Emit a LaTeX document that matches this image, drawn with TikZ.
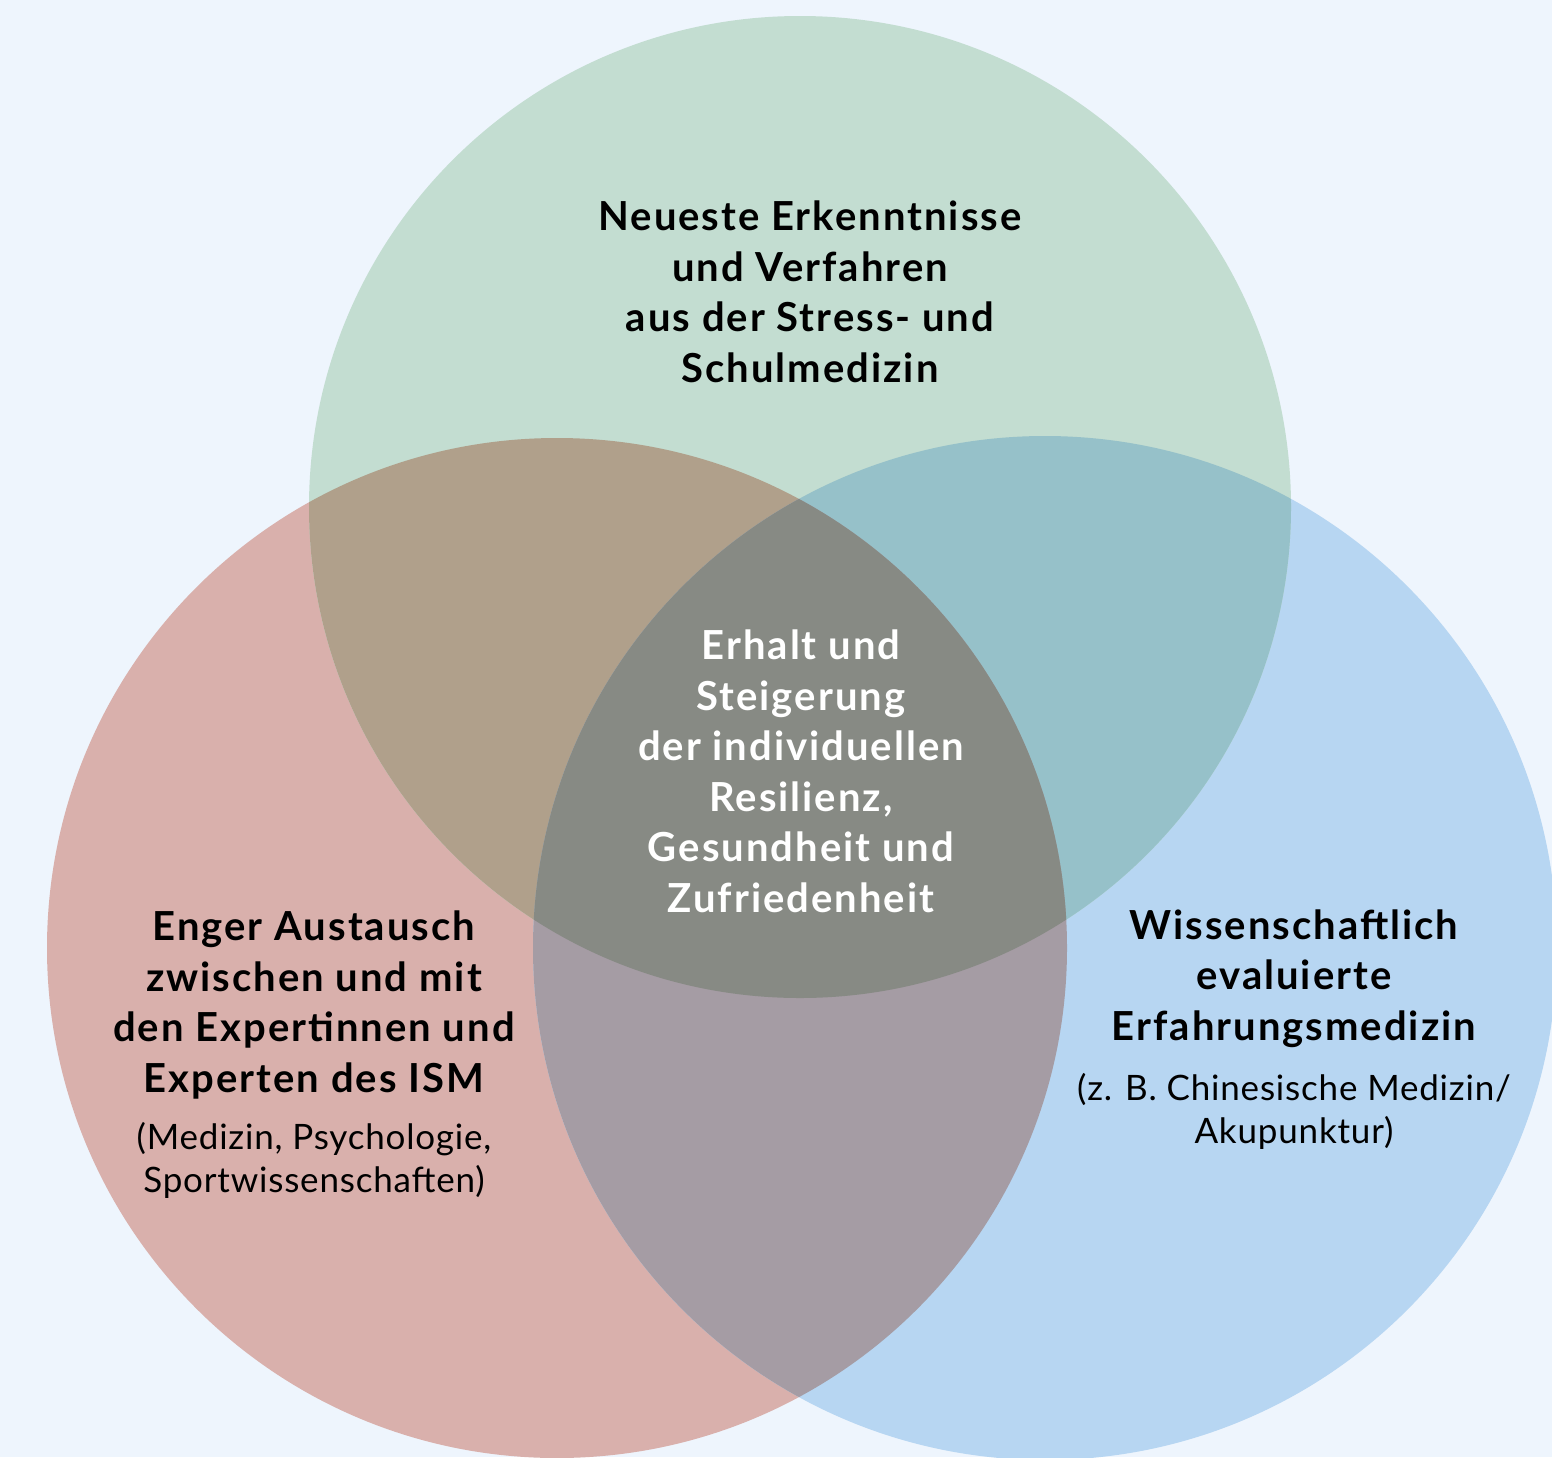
\documentclass[tikz,border=0pt]{standalone}
\usepackage{fontspec}
\setmainfont{Lato}[LetterSpace=2.3, BoldFeatures={LetterSpace=5}]
\definecolor{bgc}{HTML}{EEF5FD}
\definecolor{gc}{HTML}{C3DDD1}
\definecolor{rc}{HTML}{D9B0AC}
\definecolor{bc}{HTML}{B7D6F2}
\definecolor{rgc}{HTML}{B0A08B}
\definecolor{gbc}{HTML}{96C1C9}
\definecolor{rbc}{HTML}{A59CA4}
\definecolor{rgbc}{HTML}{878A84}
\tikzset{
  head/.style={align=center, anchor=base, inner sep=0pt, font=\bfseries\fontsize{40}{50.5}\selectfont},
  sub/.style={align=center, anchor=base, inner sep=0pt, font=\fontsize{35}{42.5}\selectfont},
}
\begin{document}
\begin{tikzpicture}[x=1pt,y=-1pt]
\useasboundingbox (0,0) rectangle (1552,1457);
\clip (0,0) rectangle (1552,1457);
\fill[bgc] (0,0) rectangle (1552,1457);
% circles
\fill[rc] (557,948) circle[radius=510pt];
\fill[bc] (1045,948) circle[radius=512pt];
\fill[gc] (800,507) circle[radius=491pt];
% pairwise overlaps
\begin{scope}
  \clip (557,948) circle[radius=510pt];
  \fill[rgc] (800,507) circle[radius=491pt];
\end{scope}
\begin{scope}
  \clip (1045,948) circle[radius=512pt];
  \fill[gbc] (800,507) circle[radius=491pt];
\end{scope}
\begin{scope}
  \clip (557,948) circle[radius=510pt];
  \fill[rbc] (1045,948) circle[radius=512pt];
\end{scope}
\begin{scope}
  \clip (557,948) circle[radius=510pt];
  \clip (1045,948) circle[radius=512pt];
  \fill[rgbc] (800,507) circle[radius=491pt];
\end{scope}
% labels (anchor base = baseline of the last line)
\node[head] (top) at (810,382) {Neueste Erkenntnisse\\und Verfahren\\aus der Stress- und\\Schulmedizin};
\node[head, text=white] (mid) at (801,912) {Erhalt und\\Steigerung\\der individuellen\\Resilienz,\\Gesundheit und\\Zufriedenheit};
\node[head] (left) at (314,1092) {Enger Austausch\\zwischen und mit\\den Expertinnen und\\Experten des ISM};
\node[sub] (leftsub) at (314,1192) {(Medizin, Psychologie,\\Sportwissenschaften)};
\node[head] (right) at (1294,1040) {Wissenschaftlich\\evaluierte\\Erfahrungsmedizin};
\node[sub] (rightsub) at (1294,1143) {(z. B. Chinesische Medizin/\\Akupunktur)};
\end{tikzpicture}
\end{document}
